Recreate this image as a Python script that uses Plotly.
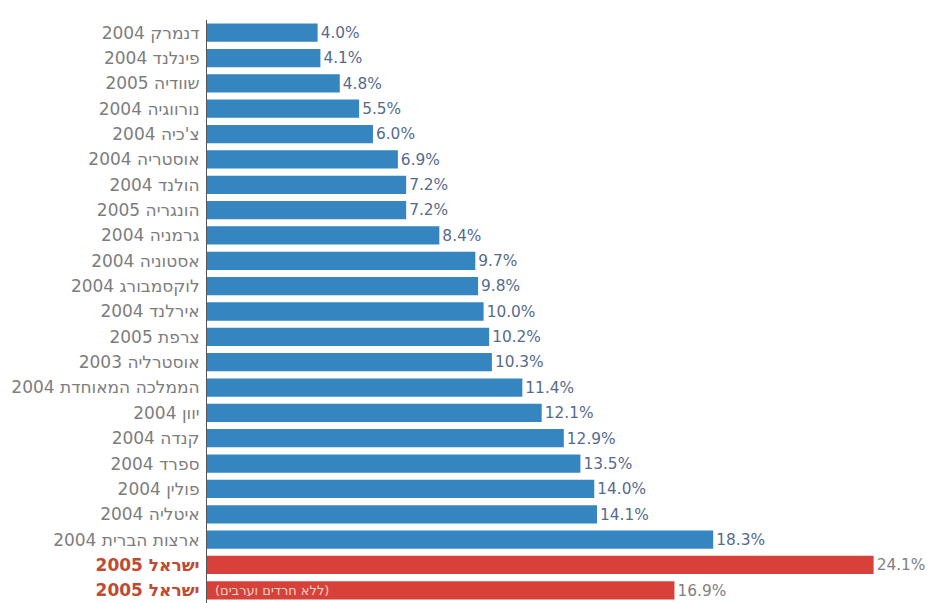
import plotly.graph_objects as go

countries = ["דנמרק", "פינלנד", "שוודיה", "נורווגיה", "צ'כיה", "אוסטריה", "הולנד", "הונגריה",
             "גרמניה", "אסטוניה", "לוקסמבורג", "אירלנד", "צרפת", "אוסטרליה", "הממלכה המאוחדת",
             "יוון", "קנדה", "ספרד", "פולין", "איטליה", "ארצות הברית", "ישראל", "ישראל"]
years = [2004, 2004, 2005, 2004, 2004, 2004, 2004, 2005, 2004, 2004, 2004, 2004, 2005, 2003, 2004,
         2004, 2004, 2004, 2004, 2004, 2004, 2005, 2005]
values = [4.0, 4.1, 4.8, 5.5, 6.0, 6.9, 7.2, 7.2, 8.4, 9.7, 9.8, 10.0, 10.2, 10.3, 11.4,
          12.1, 12.9, 13.5, 14.0, 14.1, 18.3, 24.1, 16.9]
highlight = [False] * 21 + [True, True]
note_text = "(ללא חרדים וערבים)"

BLUE = "#3586c0"
RED = "#d8403a"
ids = list(range(len(values)))
ticktext = []
for c, y, h in zip(countries, years, highlight):
    t = f"{y} {c}"
    if h:
        t = f"<span style='color:#c04a33'><b>{t}</b></span>"
    ticktext.append(t)

fig = go.Figure(go.Bar(
    x=values, y=ids, orientation="h",
    marker=dict(color=[RED if h else BLUE for h in highlight], line=dict(width=0)),
    text=[f"{v:.1f}%" for v in values], textposition="outside",
    textfont=dict(family="DejaVu Sans", size=16,
                  color=["#808080" if h else "#566b8c" for h in highlight]),
    cliponaxis=False, hoverinfo="skip",
))

fig.add_annotation(x=0, y=ids[-1], text=note_text, xanchor="left", yanchor="middle",
                   xshift=6, showarrow=False,
                   font=dict(family="DejaVu Sans", size=13, color="#f7d2cc"))

fig.update_layout(
    width=927, height=603, margin=dict(l=207, r=0, t=20, b=0),
    paper_bgcolor="white", plot_bgcolor="white", bargap=0.28, showlegend=False,
    xaxis=dict(range=[0, 26.03], showgrid=False, zeroline=False, showticklabels=False,
               showline=False),
    yaxis=dict(tickmode="array", tickvals=ids, ticktext=ticktext, range=[22.5, -0.5],
               showgrid=False, zeroline=False, showline=True, linecolor="#555555",
               linewidth=1, ticks="", ticklabelstandoff=3,
               tickfont=dict(family="DejaVu Sans", size=17, color="#7d7d7d")),
)
fig.write_html("out.html", config={"displayModeBar": False},
               post_script="document.body.style.margin='0';document.body.style.overflow='hidden';")
